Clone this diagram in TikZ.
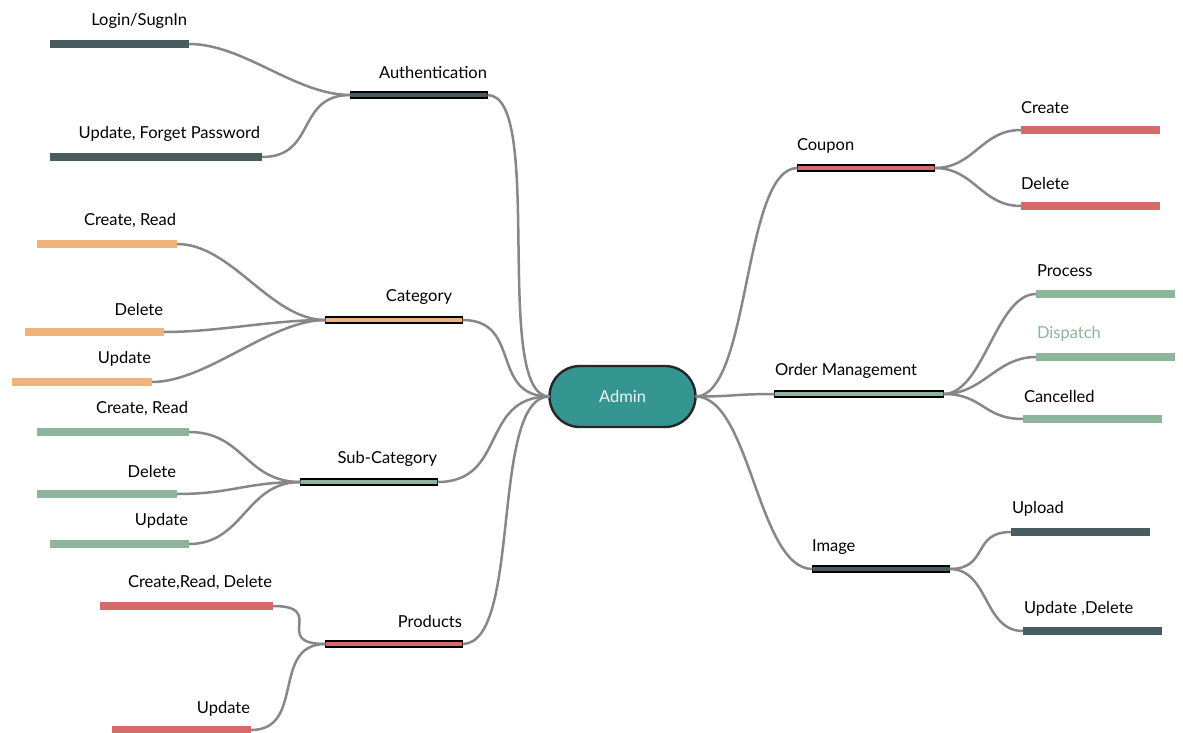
\documentclass[tikz,border=0pt]{standalone}
\usepackage{fontspec}
\setmainfont{Lato}
\usetikzlibrary{shapes.misc}
\definecolor{cdark}{RGB}{70,92,96}
\definecolor{corange}{RGB}{240,180,122}
\definecolor{cgreen}{RGB}{141,181,155}
\definecolor{cred}{RGB}{213,106,104}
\definecolor{cteal}{RGB}{53,150,145}
\definecolor{cline}{RGB}{135,135,135}
\begin{document}
\begin{tikzpicture}[x=1pt,y=-1pt,
  every node/.style={inner sep=0pt,outer sep=0pt},
  mainbar/.style={rectangle,draw=black,line width=1.8pt,minimum height=5.5pt},
  leafbar/.style={rectangle,minimum height=7.5pt},
  lbl/.style={font=\fontsize{16.5}{19}\selectfont,text=black},
  link/.style={draw=cline,line width=2.5pt},
]
\useasboundingbox (0,0) rectangle (1183,733);

% central node
\node[rounded rectangle,draw=black!85,line width=2.4pt,fill=cteal,
      minimum width=146pt,minimum height=61pt,
      font=\fontsize{16.5}{19}\selectfont,text=white!92!cteal] (admin) at (622.5,396.5) {Admin};

% ---- left branches ----
\node[mainbar,fill=cdark,minimum width=137pt]   (auth) at (419,95)  {};
\node[mainbar,fill=corange,minimum width=137pt] (cat)  at (394,320) {};
\node[mainbar,fill=cgreen,minimum width=137pt]  (sub)  at (369,482) {};
\node[mainbar,fill=cred,minimum width=137pt]    (prod) at (394,644) {};

\node[lbl,anchor=east] (authL) at (487,72)  {Authentication};
\node[lbl,anchor=east] (catL)  at (452,297) {Category};
\node[lbl,anchor=east] (subL)  at (437,459) {Sub-Category};
\node[lbl,anchor=east] (prodL) at (462,621) {Products};

% authentication leaves
\node[leafbar,fill=cdark,minimum width=139pt] (a1) at (119.5,44)  {};
\node[leafbar,fill=cdark,minimum width=212pt] (a2) at (156,157)   {};
\node[lbl,anchor=east] (a1L) at (187,21)  {Login/SugnIn};
\node[lbl,anchor=east] (a2L) at (260,134) {Update, Forget Password};

% category leaves
\node[leafbar,fill=corange,minimum width=140pt] (c1) at (107,244) {};
\node[leafbar,fill=corange,minimum width=139pt] (c2) at (94.5,332) {};
\node[leafbar,fill=corange,minimum width=140pt] (c3) at (82,382)  {};
\node[lbl,anchor=east] (c1L) at (176,221) {Create, Read};
\node[lbl,anchor=east] (c2L) at (163,309) {Delete};
\node[lbl,anchor=east] (c3L) at (151,359) {Update};

% sub-category leaves
\node[leafbar,fill=cgreen,minimum width=152pt] (s1) at (113,432) {};
\node[leafbar,fill=cgreen,minimum width=140pt] (s2) at (107,494) {};
\node[leafbar,fill=cgreen,minimum width=139pt] (s3) at (119.5,544) {};
\node[lbl,anchor=east] (s1L) at (188,409) {Create, Read};
\node[lbl,anchor=east] (s2L) at (176,471) {Delete};
\node[lbl,anchor=east] (s3L) at (188,521) {Update};

% product leaves
\node[leafbar,fill=cred,minimum width=173pt] (p1) at (186.5,606) {};
\node[leafbar,fill=cred,minimum width=139pt] (p2) at (181.5,730) {};
\node[lbl,anchor=east] (p1L) at (272,583) {Create,Read, Delete};
\node[lbl,anchor=east] (p2L) at (250,709) {Update};

% ---- right branches ----
\node[mainbar,fill=cred,minimum width=137pt]   (coup)  at (866,168) {};
\node[mainbar,fill=cgreen,minimum width=169pt] (order) at (859,394) {};
\node[mainbar,fill=cdark,minimum width=137pt]  (img)   at (881,569) {};

\node[lbl,anchor=west] (coupL)  at (797,146) {Coupon};
\node[lbl,anchor=west] (orderL) at (775,371) {Order Management};
\node[lbl,anchor=west] (imgL)   at (812,547) {Image};

% coupon leaves
\node[leafbar,fill=cred,minimum width=139pt] (k1) at (1090.5,130) {};
\node[leafbar,fill=cred,minimum width=139pt] (k2) at (1090.5,206) {};
\node[lbl,anchor=west] (k1L) at (1021,108) {Create};
\node[lbl,anchor=west] (k2L) at (1021,183) {Delete};

% order leaves
\node[leafbar,fill=cgreen,minimum width=139pt] (o1) at (1105.5,294) {};
\node[leafbar,fill=cgreen,minimum width=139pt] (o2) at (1105.5,357) {};
\node[leafbar,fill=cgreen,minimum width=139pt] (o3) at (1092.5,419) {};
\node[lbl,anchor=west] (o1L) at (1037,271) {Process};
\node[lbl,anchor=west,text=cgreen] (o2L) at (1037,334) {Dispatch};
\node[lbl,anchor=west] (o3L) at (1024,396) {Cancelled};

% image leaves
\node[leafbar,fill=cdark,minimum width=139pt] (i1) at (1080.5,532) {};
\node[leafbar,fill=cdark,minimum width=139pt] (i2) at (1092.5,631) {};
\node[lbl,anchor=west] (i1L) at (1012,509) {Upload};
\node[lbl,anchor=west] (i2L) at (1024,609) {Update ,Delete};

% ---- connectors ----
% admin to the main topics (handle length per branch)
\foreach \m/\a in {auth/58,cat/60,sub/70,prod/60}
  \path[link] (\m.east) .. controls +(\a,0) and +(-\a,0) .. (admin.west);
\foreach \m/\a in {coup/55,order/40,img/55}
  \path[link] (admin.east) .. controls +(\a,0) and +(-\a,0) .. (\m.west);

% main topics to their leaves
\foreach \l/\m in {a1/auth,a2/auth,c1/cat,c2/cat,c3/cat,s1/sub,s2/sub,s3/sub,p1/prod,p2/prod}
  \path[link] (\l.east) .. controls +(55,0) and +(-55,0) .. (\m.west);
\foreach \m/\l in {coup/k1,coup/k2,order/o1,order/o2,order/o3,img/i1,img/i2}
  \path[link] (\m.east) .. controls +(40,0) and +(-40,0) .. (\l.west);
\end{tikzpicture}
\end{document}
